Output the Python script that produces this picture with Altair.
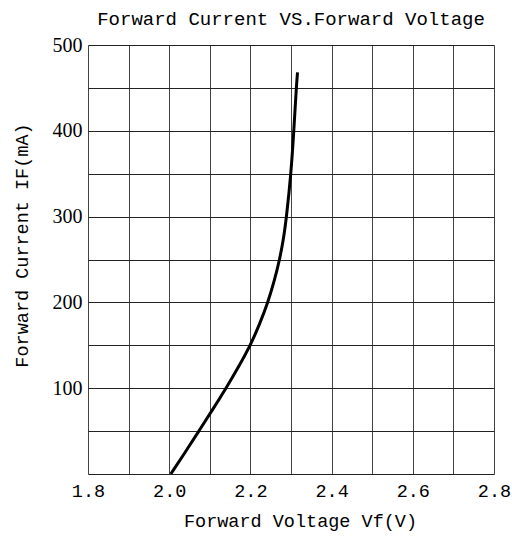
import altair as alt
import pandas as pd

# Curve
iff = [0, 25, 50, 75, 100, 125, 150, 175, 200, 225, 250, 275, 300, 350, 400, 450, 468]
vf = [2.004, 2.039, 2.073, 2.107, 2.140, 2.171, 2.200, 2.223, 2.243, 2.259, 2.272, 2.282, 2.289, 2.300, 2.307, 2.313, 2.316]

x_ticks = [1.8, 1.9, 2.0, 2.1, 2.2, 2.3, 2.4, 2.5, 2.6, 2.7, 2.8]
y_ticks = [0, 50, 100, 150, 200, 250, 300, 350, 400, 450, 500]

df = pd.DataFrame({"Vf": vf, "IF": iff})

MONO = "Liberation Mono"
SERIF = "Liberation Serif"

chart = alt.Chart(df).mark_line(color="black", strokeWidth=3, interpolate="basis").encode(
    x=alt.X("Vf:Q", scale=alt.Scale(domain=[1.8, 2.8], nice=False, zero=False),
            axis=alt.Axis(values=x_ticks, format=".1f",
                          labelExpr="round(datum.value*10) % 2 == 0 ? datum.label : ''",
                          title="Forward Voltage Vf(V)", titleFont=MONO, titleFontSize=18.5,
                          titleFontWeight="normal", titleColor="black",
                          titleX=212, titleY=46, titleBaseline="middle", titleAlign="center",
                          labelFont=MONO, labelFontSize=18.5, labelColor="black", labelPadding=7,
                          ticks=False, domain=False, grid=True, gridColor="#444", gridWidth=1,
                          gridOpacity=1, labelFlush=False)),
    y=alt.Y("IF:Q", scale=alt.Scale(domain=[0, 500], nice=False),
            axis=alt.Axis(values=y_ticks,
                          labelExpr="datum.value % 100 == 0 && datum.value > 0 ? datum.label : ''",
                          title="Forward Current  IF(mA)", titleFont=MONO, titleFontSize=18.5,
                          titleFontWeight="normal", titleColor="black",
                          titleX=-67, titleY=200, titleBaseline="middle", titleAlign="center",
                          titleAngle=270,
                          labelFont=SERIF, labelFontSize=20, labelColor="black", labelPadding=6,
                          ticks=False, domain=False, grid=True, gridColor="#222", gridWidth=1,
                          gridOpacity=1, labelFlush=False)),
    order="IF:Q",
).properties(
    width=406, height=429,
    title=alt.TitleParams("Forward Current VS.Forward Voltage", font=MONO, fontSize=19,
                          fontWeight="normal", color="black", anchor="middle", offset=6),
    autosize=alt.AutoSizeParams(type="none"),
    padding={"left": 88, "top": 45, "right": 18, "bottom": 65},
).configure_view(stroke="#333", strokeWidth=1.2).configure(background="white")

chart.save("out.html", embed_options={"renderer": "svg", "actions": False})
